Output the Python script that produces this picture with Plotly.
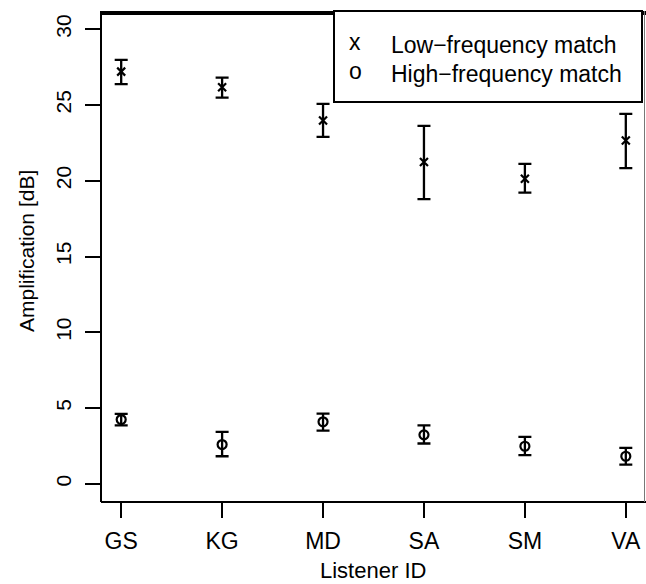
import plotly.graph_objects as go

# ---- data ----
listeners = ["GS", "KG", "MD", "SA", "SM", "VA"]

low_mean = [27.2, 26.17, 23.97, 21.23, 20.13, 22.65]
low_upper = [27.97, 26.8, 25.07, 23.62, 21.11, 24.41]
low_lower = [26.37, 25.48, 22.89, 18.79, 19.22, 20.83]

high_mean = [4.24, 2.59, 4.09, 3.23, 2.48, 1.82]
high_upper = [4.61, 3.43, 4.63, 3.86, 3.10, 2.37]
high_lower = [3.86, 1.82, 3.51, 2.66, 1.89, 1.27]

y_ticks = [0, 5, 10, 15, 20, 25, 30]

legend_labels = ["Low\u2212frequency match", "High\u2212frequency match"]
legend_symbols = ["x", "o"]

FONT = "Liberation Sans, Arial, Helvetica, sans-serif"

W, H = 646, 584
ML, MR, MT, MB = 101, 0, 11, 82
PW = W - ML - MR
PH = H - MT - MB


def px_x(px):
    return (px - ML) / PW


def px_y(py):
    return (H - MB - py) / PH


fig = go.Figure()

fig.add_trace(go.Scatter(
    x=listeners, y=low_mean, mode="markers",
    marker=dict(symbol="x-thin-open", size=8, color="black",
                line=dict(color="black", width=2.2)),
    error_y=dict(type="data", symmetric=False,
                 array=[u - m for u, m in zip(low_upper, low_mean)],
                 arrayminus=[m - l for m, l in zip(low_mean, low_lower)],
                 color="black", thickness=2.3, width=6.5),
    showlegend=False,
))

fig.add_trace(go.Scatter(
    x=listeners, y=high_mean, mode="markers",
    marker=dict(symbol="circle-open", size=9, color="black",
                line=dict(color="black", width=2.2)),
    error_y=dict(type="data", symmetric=False,
                 array=[u - m for u, m in zip(high_upper, high_mean)],
                 arrayminus=[m - l for m, l in zip(high_mean, high_lower)],
                 color="black", thickness=2.3, width=6.5),
    showlegend=False,
))

shapes = [
    # left border
    dict(type="line", xref="paper", yref="paper", x0=0, x1=0, y0=0, y1=1,
         line=dict(color="black", width=2)),
    # bottom border
    dict(type="line", xref="paper", yref="paper", x0=0, x1=1, y0=0, y1=0,
         line=dict(color="black", width=2)),
    # top border (thick)
    dict(type="line", xref="paper", yref="paper", x0=0, x1=1,
         y0=px_y(13), y1=px_y(13), line=dict(color="black", width=4)),
    # right border (faint)
    dict(type="line", xref="paper", yref="paper", x0=px_x(644.5), x1=px_x(644.5),
         y0=0, y1=1, line=dict(color="#777777", width=1)),
    # legend box
    dict(type="rect", xref="paper", yref="paper",
         x0=px_x(334), x1=px_x(642), y0=px_y(102), y1=1,
         line=dict(color="black", width=2), fillcolor="white", layer="above"),
]

annotations = []
row_y = [45, 74]
for sym, lab, ry in zip(legend_symbols, legend_labels, row_y):
    annotations.append(dict(
        xref="paper", yref="paper", x=px_x(355), y=px_y(ry),
        text=sym, showarrow=False, xanchor="center", yanchor="middle",
        yshift=3, font=dict(family=FONT, size=23, color="black")))
    annotations.append(dict(
        xref="paper", yref="paper", x=px_x(389), y=px_y(ry),
        text=lab, showarrow=False, xanchor="left", yanchor="middle",
        font=dict(family=FONT, size=23, color="black")))

annotations.append(dict(
    xref="paper", yref="paper", x=0.5, y=0, yshift=-(570 - (H - MB)),
    text="Listener ID", showarrow=False, xanchor="center", yanchor="middle",
    xshift=(373 - (ML + PW / 2)),
    font=dict(family=FONT, size=22, color="black")))
annotations.append(dict(
    xref="paper", yref="paper", x=0, y=0.5, xshift=-(ML - 26),
    yshift=(MT + PH / 2) - 251,
    text="Amplification [dB]", showarrow=False, textangle=-90,
    xanchor="center", yanchor="middle",
    font=dict(family=FONT, size=21, color="black")))

fig.update_layout(
    width=W, height=H,
    margin=dict(l=ML, r=MR, t=MT, b=MB, pad=0),
    paper_bgcolor="white", plot_bgcolor="white",
    font=dict(family=FONT, size=22, color="black"),
    shapes=shapes, annotations=annotations,
    xaxis=dict(
        type="category", range=[-0.2, 5.2],
        showgrid=False, zeroline=False, showline=False,
        ticks="outside", ticklen=15, tickwidth=2, tickcolor="black",
        tickfont=dict(family=FONT, size=23, color="black"),
        ticklabelstandoff=3,
    ),
    yaxis=dict(
        range=[-1.2, 31.2], tickvals=y_ticks,
        showgrid=False, zeroline=False, showline=False,
        ticks="outside", ticklen=15, tickwidth=2, tickcolor="black",
        tickangle=-90,
        tickfont=dict(family=FONT, size=21, color="black"),
        ticklabelstandoff=6,
    ),
)

fig.write_html("out.html")
